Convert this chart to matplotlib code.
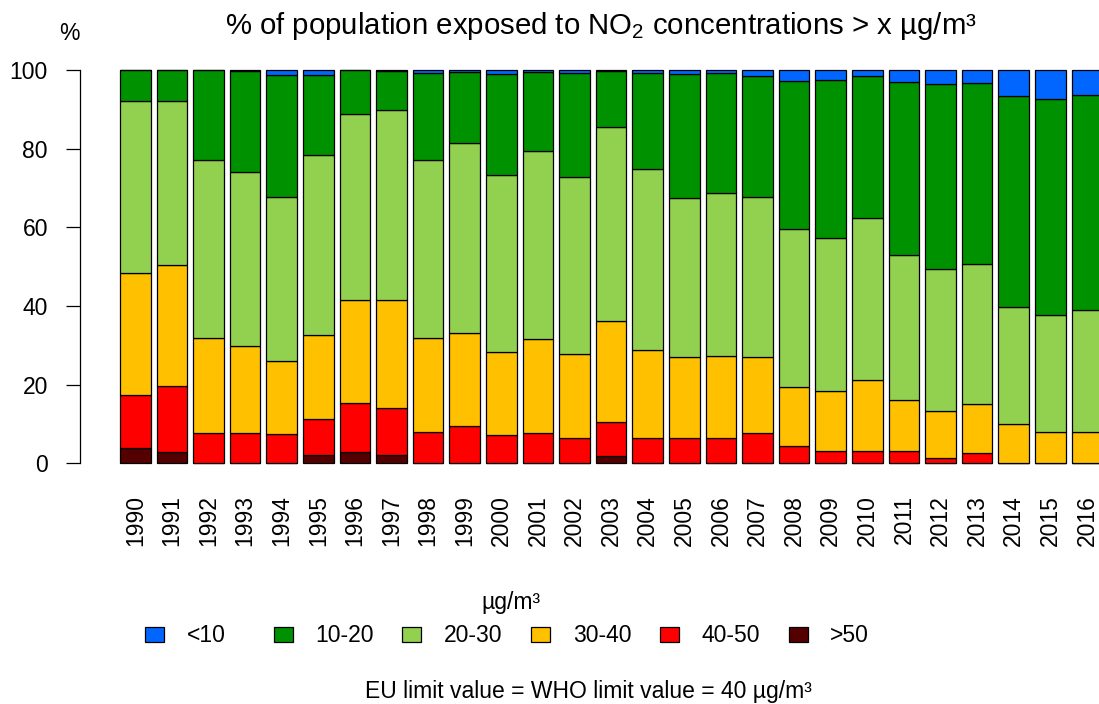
import matplotlib
matplotlib.use("Agg")
import matplotlib.pyplot as plt
from matplotlib.patches import Rectangle
import numpy as np

plt.rcParams['font.family'] = ['Liberation Sans', 'DejaVu Sans']
plt.rcParams['mathtext.fontset'] = 'custom'
plt.rcParams['mathtext.rm'] = 'Liberation Sans'
plt.rcParams['mathtext.it'] = 'Liberation Sans:italic'
plt.rcParams['mathtext.bf'] = 'Liberation Sans:bold'

# ---------------- data ----------------
years = ["1990", "1991", "1992", "1993", "1994", "1995", "1996", "1997", "1998",
         "1999", "2000", "2001", "2002", "2003", "2004", "2005", "2006", "2007",
         "2008", "2009", "2010", "2011", "2012", "2013", "2014", "2015", "2016"]

categories = ["<10", "10-20", "20-30", "30-40", "40-50", ">50"]
colors = ["#0066FF", "#009100", "#92D050", "#FFC000", "#FF0000", "#550000"]

share_lt10 = [0.0, 0.0, 0.0, 0.3, 1.3, 1.2, 0.0, 0.2, 0.7, 0.5, 1.0, 0.5, 0.7, 0.3,
              0.7, 1.1, 0.8, 1.5, 2.7, 2.5, 1.6, 3.0, 3.6, 3.4, 6.5, 7.4, 6.3]
share_10_20 = [7.9, 7.9, 23.0, 25.7, 31.0, 20.5, 11.3, 10.0, 22.3, 18.1, 25.8, 20.1,
               26.5, 14.3, 24.4, 31.5, 30.4, 30.7, 37.8, 40.1, 36.0, 44.1, 46.9,
               45.9, 53.7, 55.0, 54.6]
share_20_30 = [43.7, 41.6, 45.1, 44.1, 41.7, 45.6, 47.2, 48.2, 45.2, 48.2, 44.8, 47.8,
               44.9, 49.1, 46.2, 40.3, 41.6, 40.8, 40.1, 39.0, 41.3, 36.7, 36.3,
               35.7, 29.9, 29.7, 31.2]
share_30_40 = [31.1, 30.9, 24.1, 22.3, 18.6, 21.5, 26.3, 27.6, 23.8, 23.6, 21.3, 23.8,
               21.6, 25.8, 22.4, 20.8, 20.9, 19.4, 15.0, 15.4, 18.1, 13.2, 11.9,
               12.3, 9.9, 7.9, 7.9]
share_40_50 = [13.3, 16.7, 7.8, 7.6, 7.4, 9.2, 12.3, 12.0, 8.0, 9.6, 7.1, 7.8,
               6.3, 8.6, 6.3, 6.3, 6.3, 7.6, 4.4, 3.0, 3.0, 3.0, 1.3, 2.7, 0.0, 0.0, 0.0]
share_gt50 = [4.0, 2.9, 0.0, 0.0, 0.0, 2.0, 2.9, 2.0, 0.0, 0.0, 0.0, 0.0, 0.0, 1.9,
              0.0, 0.0, 0.0, 0.0, 0.0, 0.0, 0.0, 0.0, 0.0, 0.0, 0.0, 0.0, 0.0]

series = [share_lt10, share_10_20, share_20_30, share_30_40, share_40_50, share_gt50]

title_text = "% of population exposed to NO$_2$ concentrations > x µg/m³"
ylabel_text = "%"
legend_title = "µg/m³"
footnote = "EU limit value = WHO limit value = 40 µg/m³"
yticks = [0, 20, 40, 60, 80, 100]

# ---------------- layout helpers ----------------
W, H = 1099, 704
fig = plt.figure(figsize=(W / 100, H / 100), dpi=100)


def fx(px):
    return px / W


def fy(py):
    return 1 - py / H


ax = fig.add_axes([fx(80), fy(479.0), fx(1099) - fx(80), fy(54.3) - fy(479.0)])
ax.set_xlim(-1.511, 26.33)
ax.set_ylim(-4, 104)

x = np.arange(len(years))
bottom = np.zeros(len(years))
# stack from the highest concentration class (bottom) to the lowest (top)
for vals, col in zip(series[::-1], colors[::-1]):
    v = np.array(vals)
    ax.bar(x, v, width=0.833, bottom=bottom, color=col, edgecolor="black",
           linewidth=0.9, clip_on=True)
    bottom += v

for s in ["top", "right", "bottom"]:
    ax.spines[s].set_visible(False)
ax.spines["left"].set_bounds(0, 100)
ax.spines["left"].set_linewidth(0.9)

ax.set_yticks(yticks)
ax.set_yticklabels([str(t) for t in yticks], fontsize=16.5)
ax.tick_params(axis="y", length=10.1, width=0.9, pad=13)

ax.set_xticks(x)
ax.set_xticklabels(years, rotation=90, fontsize=16.5)
ax.tick_params(axis="x", length=0, pad=11.5)

# titles
fig.text(fx(601), fy(34.5), title_text, fontsize=21.2, ha="center", va="baseline")
fig.text(fx(69), fy(40), ylabel_text, fontsize=16.5, ha="center", va="baseline")

# legend (horizontal, equal pitch like R)
box_left0 = 145.0
pitch = 128.7
for k, (lab, col) in enumerate(zip(categories, colors)):
    bl = box_left0 + pitch * k
    fig.patches.append(Rectangle((fx(bl), fy(642.3)), fx(19), 15.6 / H,
                                 transform=fig.transFigure, facecolor=col,
                                 edgecolor="black", linewidth=0.9))
    fig.text(fx(bl + 41.7), fy(642.5), lab, fontsize=16.5, ha="left", va="baseline")

fig.text(fx(511), fy(609), legend_title, fontsize=16.5, ha="center", va="baseline")
fig.text(fx(365), fy(698), footnote, fontsize=16.5, ha="left", va="baseline")

fig.savefig("out.png", dpi=100)
